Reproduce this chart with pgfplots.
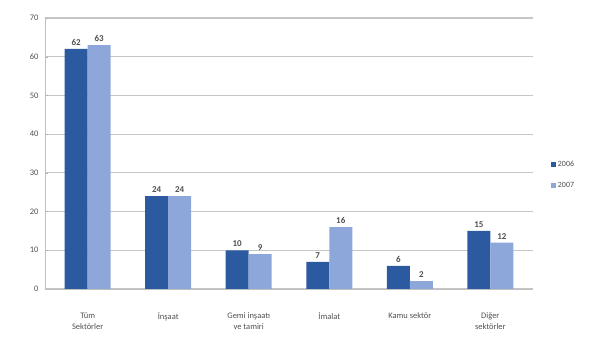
\documentclass[border=0pt]{standalone}
\usepackage{pgfplots}
\pgfplotsset{compat=1.18}
\usepackage{fontspec}
\setmainfont{Carlito}
\usetikzlibrary{calc}
\definecolor{darkb}{HTML}{2C5AA0}
\definecolor{lightb}{HTML}{8DA7DA}
\definecolor{txt}{HTML}{505050}
\begin{document}
\begin{tikzpicture}
\begin{axis}[
  name=ax,
  scale only axis,
  width=488bp, height=271bp,
  ybar=0pt, bar width=23bp,
  xmin=-0.53, xmax=5.53,
  ymin=0, ymax=70,
  ytick={0,10,...,70},
  xtick=data,
  xticklabels={{Tüm\\Sektörler},{İnşaat},{Gemi inşaatı\\ve tamiri},{İmalat},{Kamu sektör},{Diğer\\sektörler}},
  xticklabel style={align=center, font=\fontsize{8.5}{11}\selectfont, text=txt, yshift=-17bp},
  yticklabel style={font=\fontsize{8.5}{9}\selectfont, text=txt, xshift=-3bp},
  /pgf/number format/assume math mode=true,
  ymajorgrids,
  grid style={draw=gray!45, line width=1.1pt},
  axis x line*=bottom, axis y line*=left,
  axis line style={draw=gray!50, line width=0.8pt},
  major tick length=3pt,
  tick style={draw=gray!60},
  xtick style={draw=none},
  nodes near coords,
  nodes near coords style={font=\fontsize{9}{10}\selectfont\bfseries, text=txt},
  legend style={draw=none, at={(1.03,0.42)}, anchor=west, font=\fontsize{8}{9}\selectfont, text=txt, row sep=10pt},
  legend image code/.code={\fill[#1] (0cm,-0.09cm) rectangle (0.18cm,0.09cm);},
]
\addplot[fill=darkb, draw=none] coordinates {(0,62) (1,24) (2,10) (3,7) (4,6) (5,15)};
\addplot[fill=lightb, draw=none] coordinates {(0,63) (1,24) (2,9) (3,16) (4,2) (5,12)};
\legend{2006,2007}
\end{axis}
\pgfresetboundingbox
\path ($(ax.south west)+(-45bp,-54bp)$) rectangle ($(ax.north east)+(64bp,18bp)$);
\end{tikzpicture}
\end{document}
